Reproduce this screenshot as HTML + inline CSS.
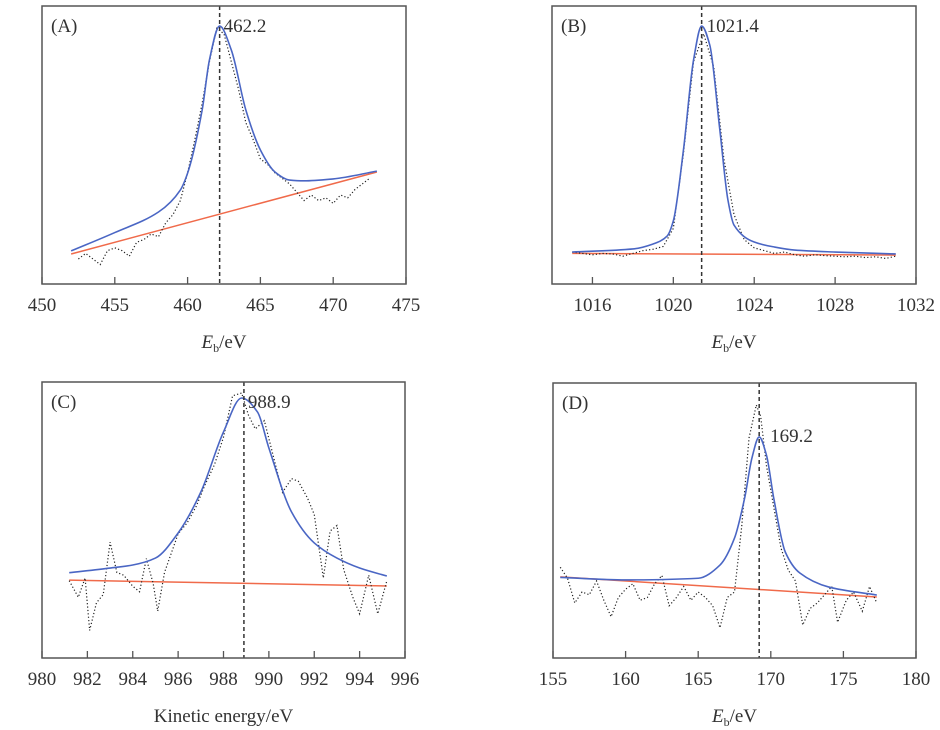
<!DOCTYPE html>
<html><head><meta charset="utf-8">
<style>
html,body{margin:0;padding:0;background:#fff;}
svg{display:block;font-family:"Liberation Serif",serif;}
</style></head>
<body>
<svg id="fig" width="940" height="730" viewBox="0 0 940 730"></svg>
<script>
// Panel A
const aTicks=[450,455,460,465,470,475];
const aFitX=[452,455,458,459.5,460,461,461.5,462.2,463,464,465,466,467,468,470,473];
const aFitY=[11.9,18.5,25.9,33.8,39.9,62.6,80.6,92.8,84.2,62.6,48.2,40.3,37.4,37.1,37.8,40.6];
const aBgX=[452,473];
const aBgY=[10.8,40.3];
const aDataX=[452.5,453,453.5,454,454.5,455,455.5,456,456.5,457,457.5,458,458.5,459,459.5,460,460.5,461,461.5,462,462.5,463,463.5,464,464.5,465,465.5,466,466.5,467,467.5,468,468.5,469,469.5,470,470.5,471,471.5,472,472.5];
const aDataY=[9,11,9,7,12,13,12,10,15,16,18,17,22,25,30,40,52,65,80,92,90,80,70,58,52,45,43,40,38,36,33,30,32,30,31,29,32,31,34,36,38];
// Panel B
const bTicks=[1016,1020,1024,1028,1032];
const bFitX=[1015,1018,1019,1019.7,1020,1020.5,1021,1021.4,1021.8,1022.3,1022.7,1023,1024,1025,1026,1028,1031];
const bFitY=[11.5,12.6,14.4,17.3,22.7,48.2,80.6,92.8,86.0,55.4,30.2,21.2,15.1,13.3,12.2,11.5,10.8];
const bBgX=[1015,1031];
const bBgY=[11.0,10.4];
const bDataX=[1015,1015.5,1016,1016.5,1017,1017.5,1018,1018.5,1019,1019.5,1020,1020.5,1021,1021.5,1022,1022.5,1023,1023.5,1024,1024.5,1025,1025.5,1026,1026.5,1027,1027.5,1028,1028.5,1029,1029.5,1030,1030.5,1031];
const bDataY=[11.5,11,10.5,11,10.8,10,11,12,12.5,13.5,20,47,80,90,78,45,25,16,13,12,11,11.5,10.5,10,10.5,10.2,10,9.8,10,9.5,9.8,9.2,10];
// Panel C
const cTicks=[980,982,984,986,988,990,992,994,996];
const cFitX=[981.2,983,984,985,986,987,988,988.8,989.5,990,991,992,993,994,995.2];
const cFitY=[30.9,32.6,33.7,36.2,45.3,60.1,81.9,94.2,89.1,76.1,52.9,41.7,36.2,32.6,29.7];
const cBgX=[981.2,995.2];
const cBgY=[28.2,26.1];
const cDataX=[981.2,981.6,981.9,982.1,982.4,982.7,983,983.3,983.6,984,984.3,984.6,984.9,985.1,985.4,985.7,986,986.4,986.8,987.2,987.6,988,988.4,988.8,989.1,989.4,989.8,990.2,990.6,991,991.3,991.7,992,992.4,992.7,993,993.3,993.7,994,994.4,994.8,995.2];
const cDataY=[28,22,29,10,20,23,42,31,30,26,24,36,27,17,31,38,45,49,55,63,70,80,95,96,88,83,86,73,60,65,64,58,52,29,46,48,32,22,16,30,16,28];
// Panel D
const dTicks=[155,160,165,170,175,180];
const dFitX=[155.5,160,165,166.5,167.5,168.2,168.7,169.2,169.7,170.2,171,172,174,177.3];
const dFitY=[29.3,28.4,29.0,33.8,43.6,58.2,72.7,80.4,73.8,58.2,38.5,30.9,25.8,22.9];
const dBgX=[155.5,177.3];
const dBgY=[29.5,22.2];
const dDataX=[155.5,156,156.5,157,157.5,158,158.5,159,159.5,160,160.5,161,161.5,162,162.5,163,163.5,164,164.5,165,165.5,166,166.5,167,167.5,168,168.5,169,169.3,169.7,170.2,170.7,171.2,171.7,172.2,172.7,173.2,173.7,174.2,174.6,175.2,175.7,176.3,176.8,177.3];
const dDataY=[33,29,20,24,23,28,21,15,22,25,27,21,22,27,30,19,22,26,21,24,22,19,11,22,24,48,80,92,88,70,55,40,32,28,12,18,20,23,26,13,21,24,17,26,20];

const NS="http://www.w3.org/2000/svg";
const svg=document.getElementById('fig');
function mk(tag,attrs,parent){const e=document.createElementNS(NS,tag);for(const k in attrs)e.setAttribute(k,attrs[k]);(parent||svg).appendChild(e);return e;}
// monotone cubic (Fritsch-Carlson) path in screen coords
function monotone(pts){
  const n=pts.length,dx=[],m=[],t=[];
  for(let i=0;i<n-1;i++){dx[i]=pts[i+1][0]-pts[i][0];m[i]=(pts[i+1][1]-pts[i][1])/dx[i];}
  t[0]=m[0];t[n-1]=m[n-2];
  for(let i=1;i<n-1;i++){
    if(m[i-1]*m[i]<=0)t[i]=0;
    else{const w1=2*dx[i]+dx[i-1],w2=dx[i]+2*dx[i-1];t[i]=(w1+w2)/(w1/m[i-1]+w2/m[i]);}
  }
  let d=`M${pts[0][0]},${pts[0][1]}`;
  for(let i=0;i<n-1;i++){
    const h=dx[i]/3;
    d+=` C${pts[i][0]+h},${pts[i][1]+t[i]*h} ${pts[i+1][0]-h},${pts[i+1][1]-t[i+1]*h} ${pts[i+1][0]},${pts[i+1][1]}`;
  }
  return d;
}
function panel(o){
  const g=mk('g',{});
  
  
  const sx=v=>o.x0+(v-o.d0)/(o.d1-o.d0)*(o.x1-o.x0);
  const sy=v=>o.y1-v/100*(o.y1-o.y0);
  o.ticks.forEach(t=>{
    const tk=mk('line',{x1:sx(t),x2:sx(t),y1:o.y1,y2:o.y1-7,stroke:'#555','stroke-width':1.3},g);
    
    
    const tl=mk('text',{x:sx(t),y:o.y1+27,'text-anchor':'middle','font-size':19,fill:'#333'},g);
    tl.textContent=t;
    
    
  });
  const bg=mk('path',{d:'M'+o.bgX.map((x,i)=>sx(x)+','+sy(o.bgY[i])).join(' L'),stroke:'#f06a4a','stroke-width':1.5,fill:'none'},g);
  
  
  const dt=mk('path',{d:'M'+o.dX.map((x,i)=>sx(x)+','+sy(o.dY[i])).join(' L'),stroke:'#222','stroke-width':1.2,'stroke-dasharray':'1.2,2.2',fill:'none'},g);
  
  
  const ft=mk('path',{d:monotone(o.fX.map((x,i)=>[sx(x),sy(o.fY[i])])),stroke:'#4a66c4','stroke-width':1.6,fill:'none'},g);
  
  
  const pl=mk('line',{x1:sx(o.peak),x2:sx(o.peak),y1:o.y0,y2:o.y1,stroke:'#333','stroke-width':1.5,'stroke-dasharray':'4,3'},g);
  
  
  const pk=mk('text',{x:sx(o.peak)+o.lblDx,y:o.lblY,'font-size':19,fill:'#333'},g);
  pk.textContent=o.peakLabel;
  
  
  const fr=mk('rect',{x:o.x0,y:o.y0,width:o.x1-o.x0,height:o.y1-o.y0,fill:'none',stroke:'#555','stroke-width':1.5},g);
  
  
  const pn=mk('text',{x:o.x0+9,y:o.y0+26,'font-size':19,fill:'#333'},g);
  pn.textContent='('+o.id+')';
  
  
  const at=mk('text',{x:(o.x0+o.x1)/2,y:o.y1+64,'text-anchor':'middle','font-size':19,fill:'#333'},g);
  if(o.kin){at.textContent='Kinetic energy/eV';}
  else{at.innerHTML='<tspan font-style="italic">E</tspan><tspan font-size="12" dy="4">b</tspan><tspan dy="-4">/eV</tspan>';}
  
  
}
panel({id:'A',x0:42,x1:406,y0:6,y1:284,d0:450,d1:475,ticks:aTicks,fX:aFitX,fY:aFitY,bgX:aBgX,bgY:aBgY,dX:aDataX,dY:aDataY,peak:462.2,peakLabel:'462.2',lblDx:4,lblY:32});
panel({id:'B',x0:552,x1:916,y0:6,y1:284,d0:1014,d1:1032,ticks:bTicks,fX:bFitX,fY:bFitY,bgX:bBgX,bgY:bBgY,dX:bDataX,dY:bDataY,peak:1021.4,peakLabel:'1021.4',lblDx:5,lblY:32});
panel({id:'C',x0:42,x1:405,y0:382,y1:658,d0:980,d1:996,ticks:cTicks,fX:cFitX,fY:cFitY,bgX:cBgX,bgY:cBgY,dX:cDataX,dY:cDataY,peak:988.9,peakLabel:'988.9',lblDx:4,lblY:408,kin:true});
panel({id:'D',x0:553,x1:916,y0:383,y1:658,d0:155,d1:180,ticks:dTicks,fX:dFitX,fY:dFitY,bgX:dBgX,bgY:dBgY,dX:dDataX,dY:dDataY,peak:169.2,peakLabel:'169.2',lblDx:11,lblY:442});
</script>
</body></html>
